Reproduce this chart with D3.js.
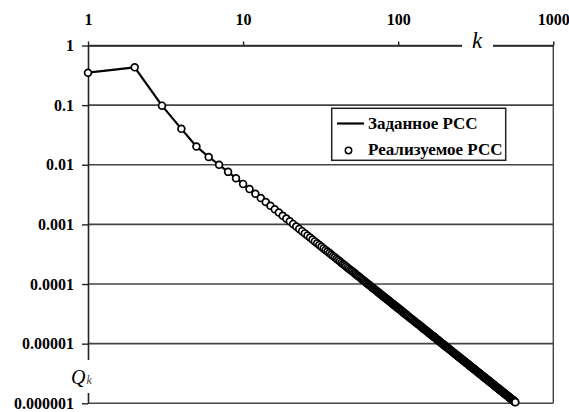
<!DOCTYPE html>
<html>
<head>
<meta charset="utf-8">
<script src="https://cdn.jsdelivr.net/npm/d3@7"></script>
<style>
  body { margin: 0; background: #fff; }
  svg { display: block; }
</style>
</head>
<body>
<svg id="chart" width="569" height="412"></svg>
<script>
// Rank k of the element
const kValues = [
  1, 2, 3, 4, 5, 6, 7, 8, 9, 10,
  11, 12, 13, 14, 15, 16, 17, 18, 19, 20,
  21, 22, 23, 24, 25, 26, 27, 28, 29, 30,
  31, 32, 33, 34, 35, 36, 37, 38, 39, 40,
  41, 42, 43, 44, 45, 46, 47, 48, 49, 50,
  51, 52, 53, 54, 55, 56, 57, 58, 59, 60,
  61, 62, 63, 64, 65, 66, 67, 68, 69, 70,
  71, 72, 73, 74, 75, 76, 77, 78, 79, 80,
  81, 82, 83, 84, 85, 86, 87, 88, 89, 90,
  91, 92, 93, 94, 95, 96, 97, 98, 99, 100,
  101, 102, 103, 104, 105, 106, 107, 108, 109, 110,
  111, 112, 113, 114,
  116, 118, 120, 122, 124, 126, 128, 130, 132, 134,
  136, 138, 140, 142, 144, 146, 148, 150, 152, 154,
  156, 158, 160, 162, 164, 166, 168, 170, 172, 174,
  176, 178, 180, 182, 184, 186, 188, 190, 192, 194,
  196, 198, 200,
  202, 205, 207, 210, 212, 215, 217, 220, 222, 225,
  227, 230, 232, 235, 237, 240, 242, 245, 247, 250,
  252, 255, 257, 260, 262, 265, 267, 270, 272, 275,
  277, 280, 282, 285, 287, 290, 292, 295, 297, 300,
  302, 305, 307, 310, 312, 315, 317, 320, 322, 325,
  327, 330, 332, 335, 337, 340, 342, 345, 347, 350,
  352, 355, 357, 360, 362, 365, 367, 370, 372, 375,
  377, 380, 382, 385, 387, 390, 392, 395, 397, 400,
  402, 405, 407, 410, 412, 415, 417, 420, 422, 425,
  427, 430, 432, 435, 437, 440, 442, 445, 447, 450,
  452, 455, 457, 460, 462, 465, 467, 470, 472, 475,
  477, 480, 482, 485, 487, 490, 492, 495, 497, 500,
  502, 505, 507, 510, 512, 515, 517, 520, 522, 525,
  527, 530, 532, 535, 537, 540, 542, 545, 547, 550,
  552, 555, 557, 560, 562, 565, 567, 569
];

// Q_k, the rank-size distribution value for each k
const qValues = [
  0.35, 0.43, 0.098, 0.04, 0.0203, 0.0135, 0.0100, 0.0076, 0.00595, 0.00478,
  0.00391, 0.00327, 0.00276, 0.00237, 0.00205, 0.00179, 0.00158, 0.00140, 0.00125, 0.00113,
  0.00102, 9.23e-4, 8.41e-4, 7.70e-4, 7.07e-4, 6.51e-4, 6.02e-4, 5.58e-4, 5.19e-4, 4.83e-4,
  4.51e-4, 4.22e-4, 3.96e-4, 3.72e-4, 3.50e-4, 3.30e-4, 3.12e-4, 2.95e-4, 2.80e-4, 2.65e-4,
  2.52e-4, 2.40e-4, 2.28e-4, 2.17e-4, 2.08e-4, 1.98e-4, 1.90e-4, 1.81e-4, 1.74e-4, 1.67e-4,
  1.60e-4, 1.54e-4, 1.48e-4, 1.42e-4, 1.37e-4, 1.32e-4, 1.27e-4, 1.22e-4, 1.18e-4, 1.14e-4,
  1.10e-4, 1.06e-4, 1.03e-4, 9.96e-5, 9.64e-5, 9.34e-5, 9.05e-5, 8.77e-5, 8.51e-5, 8.26e-5,
  8.02e-5, 7.79e-5, 7.57e-5, 7.36e-5, 7.16e-5, 6.96e-5, 6.77e-5, 6.59e-5, 6.42e-5, 6.25e-5,
  6.09e-5, 5.94e-5, 5.79e-5, 5.65e-5, 5.51e-5, 5.38e-5, 5.25e-5, 5.13e-5, 5.01e-5, 4.89e-5,
  4.78e-5, 4.67e-5, 4.57e-5, 4.47e-5, 4.37e-5, 4.28e-5, 4.18e-5, 4.10e-5, 4.01e-5, 3.93e-5,
  3.85e-5, 3.77e-5, 3.69e-5, 3.62e-5, 3.55e-5, 3.48e-5, 3.41e-5, 3.34e-5, 3.28e-5, 3.22e-5,
  3.16e-5, 3.10e-5, 3.04e-5, 2.99e-5,
  2.88e-5, 2.78e-5, 2.68e-5, 2.59e-5, 2.51e-5, 2.43e-5, 2.35e-5, 2.27e-5, 2.20e-5, 2.13e-5,
  2.07e-5, 2.01e-5, 1.95e-5, 1.89e-5, 1.84e-5, 1.78e-5, 1.73e-5, 1.69e-5, 1.64e-5, 1.60e-5,
  1.55e-5, 1.51e-5, 1.47e-5, 1.44e-5, 1.40e-5, 1.37e-5, 1.33e-5, 1.30e-5, 1.27e-5, 1.24e-5,
  1.21e-5, 1.18e-5, 1.15e-5, 1.13e-5, 1.10e-5, 1.08e-5, 1.05e-5, 1.03e-5, 1.01e-5, 9.86e-6,
  9.65e-6, 9.45e-6, 9.25e-6,
  9.06e-6, 8.79e-6, 8.61e-6, 8.36e-6, 8.20e-6, 7.96e-6, 7.81e-6, 7.59e-6, 7.45e-6, 7.24e-6,
  7.11e-6, 6.92e-6, 6.79e-6, 6.61e-6, 6.50e-6, 6.33e-6, 6.22e-6, 6.06e-6, 5.96e-6, 5.81e-6,
  5.72e-6, 5.58e-6, 5.49e-6, 5.36e-6, 5.27e-6, 5.15e-6, 5.07e-6, 4.95e-6, 4.87e-6, 4.76e-6,
  4.69e-6, 4.59e-6, 4.52e-6, 4.42e-6, 4.36e-6, 4.26e-6, 4.20e-6, 4.12e-6, 4.06e-6, 3.97e-6,
  3.92e-6, 3.84e-6, 3.79e-6, 3.71e-6, 3.66e-6, 3.59e-6, 3.54e-6, 3.47e-6, 3.43e-6, 3.36e-6,
  3.32e-6, 3.26e-6, 3.22e-6, 3.16e-6, 3.12e-6, 3.06e-6, 3.02e-6, 2.97e-6, 2.93e-6, 2.88e-6,
  2.85e-6, 2.80e-6, 2.77e-6, 2.72e-6, 2.69e-6, 2.64e-6, 2.61e-6, 2.57e-6, 2.54e-6, 2.50e-6,
  2.47e-6, 2.43e-6, 2.40e-6, 2.36e-6, 2.34e-6, 2.30e-6, 2.28e-6, 2.24e-6, 2.22e-6, 2.18e-6,
  2.16e-6, 2.13e-6, 2.10e-6, 2.07e-6, 2.05e-6, 2.02e-6, 2.00e-6, 1.97e-6, 1.95e-6, 1.92e-6,
  1.90e-6, 1.88e-6, 1.86e-6, 1.83e-6, 1.81e-6, 1.79e-6, 1.77e-6, 1.75e-6, 1.73e-6, 1.71e-6,
  1.69e-6, 1.67e-6, 1.65e-6, 1.63e-6, 1.62e-6, 1.59e-6, 1.58e-6, 1.56e-6, 1.54e-6, 1.52e-6,
  1.51e-6, 1.49e-6, 1.48e-6, 1.46e-6, 1.45e-6, 1.43e-6, 1.42e-6, 1.40e-6, 1.39e-6, 1.37e-6,
  1.36e-6, 1.34e-6, 1.33e-6, 1.31e-6, 1.30e-6, 1.29e-6, 1.28e-6, 1.26e-6, 1.25e-6, 1.24e-6,
  1.23e-6, 1.21e-6, 1.20e-6, 1.19e-6, 1.18e-6, 1.17e-6, 1.16e-6, 1.145e-6, 1.136e-6, 1.12e-6,
  1.11e-6, 1.10e-6, 1.09e-6, 1.08e-6, 1.07e-6, 1.06e-6, 1.054e-6, 1.046e-6
];

const xTicks = [1, 10, 100, 1000];
const xTickLabels = ["1", "10", "100", "1000"];
const yTicks = [1, 0.1, 0.01, 0.001, 0.0001, 0.00001, 0.000001];
const yTickLabels = ["1", "0.1", "0.01", "0.001", "0.0001", "0.00001", "0.000001"];
const legendLabels = ["Заданное РСС", "Реализуемое РСС"];
const xAxisTitle = "k";
const yAxisTitle = "Q";
const yAxisSub = "k";

const serif = '"Liberation Serif", "Times New Roman", serif';
const gridColor = "#444";

const points = kValues.map((k, i) => ({ k, q: qValues[i] }));

const svg = d3.select("#chart");
svg.append("rect").attr("width", 569).attr("height", 412).attr("fill", "#fff");

const x = d3.scaleLog().domain([1, 1000]).range([88, 553.3]);
const y = d3.scaleLog().domain([1e-6, 1]).range([403.3, 45.5]);

// horizontal grid at each decade
svg.append("g")
  .selectAll("line")
  .data(yTicks)
  .join("line")
  .attr("x1", x(1)).attr("x2", x(1000))
  .attr("y1", d => y(d)).attr("y2", d => y(d))
  .attr("stroke", gridColor)
  .attr("stroke-width", 1.6);

// right frame edge
svg.append("line")
  .attr("x1", x(1000)).attr("x2", x(1000))
  .attr("y1", y(1)).attr("y2", y(1e-6))
  .attr("stroke", gridColor)
  .attr("stroke-width", 1.4);

// top axis (k)
const xAxis = svg.append("g")
  .attr("transform", `translate(0,${y(1)})`)
  .call(d3.axisTop(x)
    .tickValues(xTicks)
    .tickFormat((d, i) => xTickLabels[i])
    .tickSize(4)
    .tickSizeOuter(0)
    .tickPadding(16.5));

// left axis (Q_k)
const yAxis = svg.append("g")
  .attr("transform", `translate(${x(1)},0)`)
  .call(d3.axisLeft(y)
    .tickValues(yTicks)
    .tickFormat((d, i) => yTickLabels[i])
    .tickSize(6)
    .tickSizeOuter(0)
    .tickPadding(8));

[xAxis, yAxis].forEach(g => {
  g.select(".domain").attr("stroke", "#222").attr("stroke-width", 1.6);
  g.selectAll(".tick line").attr("stroke", "#222").attr("stroke-width", 1.4);
  g.selectAll(".tick text")
    .attr("fill", "#000")
    .style("font-family", serif)
    .style("font-size", "16px")
    .style("font-weight", "bold");
});

// series: line and markers
const line = d3.line().x(d => x(d.k)).y(d => y(d.q));
svg.append("path")
  .datum(points)
  .attr("d", line)
  .attr("fill", "none")
  .attr("stroke", "#000")
  .attr("stroke-width", 2.2)
  .attr("stroke-linejoin", "round");

svg.append("g")
  .selectAll("circle")
  .data(points)
  .join("circle")
  .attr("cx", d => x(d.k))
  .attr("cy", d => y(d.q))
  .attr("r", 3.4)
  .attr("fill", "#fff")
  .attr("stroke", "#000")
  .attr("stroke-width", 1.7);

// axis titles on white patches that break the axis lines
svg.append("rect").attr("x", 462).attr("y", 40).attr("width", 31).attr("height", 10).attr("fill", "#fff");
svg.append("text")
  .attr("x", 477).attr("y", 47.5)
  .attr("text-anchor", "middle")
  .style("font-family", serif)
  .style("font-size", "23px")
  .style("font-style", "italic")
  .attr("fill", "#000")
  .text(xAxisTitle);

svg.append("rect").attr("x", 80).attr("y", 360).attr("width", 16).attr("height", 33).attr("fill", "#fff");
const qTitle = svg.append("text")
  .attr("x", 71).attr("y", 383.5)
  .style("font-family", serif)
  .style("font-style", "italic")
  .attr("fill", "#000");
qTitle.append("tspan").style("font-size", "20px").text(yAxisTitle);
qTitle.append("tspan").style("font-size", "12px").attr("dx", 1).attr("fill", "#444").text(yAxisSub);

// legend
const legend = svg.append("g");
legend.append("rect")
  .attr("x", 331.7).attr("y", 108.3)
  .attr("width", 174).attr("height", 52)
  .attr("fill", "#fff")
  .attr("stroke", "#222")
  .attr("stroke-width", 1.5);
legend.append("line")
  .attr("x1", 337).attr("x2", 364)
  .attr("y1", 123.5).attr("y2", 123.5)
  .attr("stroke", "#000").attr("stroke-width", 2.2);
legend.append("circle")
  .attr("cx", 348.5).attr("cy", 150.5).attr("r", 3.2)
  .attr("fill", "#fff").attr("stroke", "#000").attr("stroke-width", 1.5);
legend.selectAll("text.lbl")
  .data(legendLabels)
  .join("text")
  .attr("class", "lbl")
  .attr("x", 368)
  .attr("y", (d, i) => i === 0 ? 128.5 : 155)
  .style("font-family", serif)
  .style("font-size", "17px")
  .style("font-weight", "bold")
  .attr("fill", "#000")
  .text(d => d);
</script>
</body>
</html>
